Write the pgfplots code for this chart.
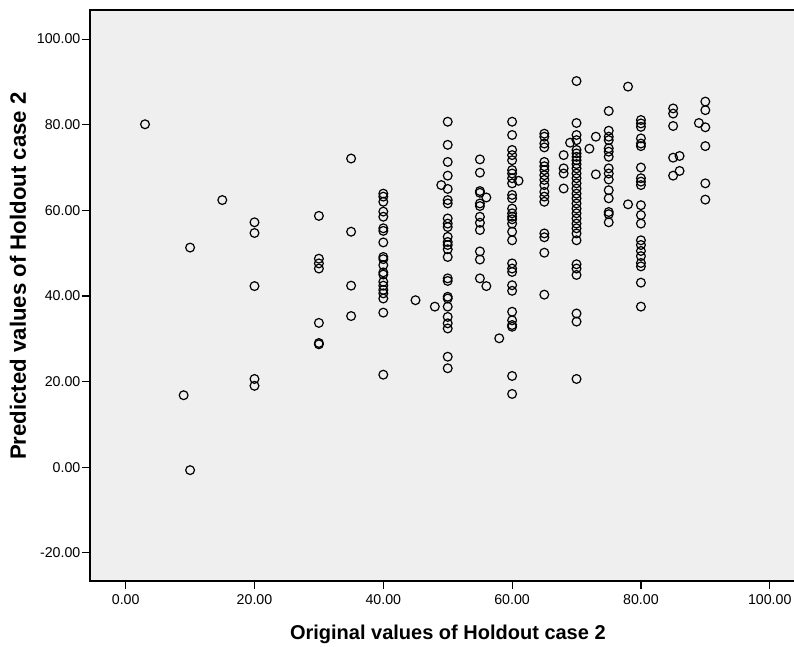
\documentclass[border=0pt]{standalone}
\usepackage{fontspec}
\setmainfont{Liberation Sans}
\usepackage{pgfplots}
\pgfplotsset{compat=1.18}
\usepackage{pgfplotstable}
\definecolor{plotbg}{HTML}{EFEFEF}
\pgfplotstableread{
x y
3 80.1
9 16.8
10 51.3
10 -0.7
15 62.4
20 57.2
20 54.7
20 42.3
20 20.6
20 19.0
30 58.7
30 48.7
30 47.6
30 46.4
30 33.7
30 29.0
30 28.7
35 72.1
35 55.0
35 42.4
35 35.3
40 63.9
40 63.2
40 62.0
40 59.7
40 58.5
40 55.8
40 55.2
40 52.5
40 49.1
40 48.6
40 47.2
40 45.5
40 45.0
40 43.3
40 42.4
40 41.4
40 40.6
40 39.4
40 36.1
40 21.6
45 39.0
48 37.5
49 65.9
50 80.7
50 75.3
50 71.3
50 68.1
50 65.0
50 62.4
50 61.6
50 58.1
50 56.9
50 56.1
50 53.8
50 52.6
50 51.9
50 50.9
50 49.1
50 44.1
50 43.5
50 39.8
50 39.4
50 37.5
50 35.1
50 33.6
50 32.4
50 25.8
50 23.1
55 71.9
55 68.8
55 64.5
55 64.1
55 61.6
55 61.0
55 58.5
55 57.1
55 55.4
55 50.4
55 48.5
55 44.1
56 63.0
56 42.3
58 30.1
60 80.7
60 77.6
60 74.1
60 72.9
60 71.7
60 69.4
60 68.6
60 67.5
60 66.3
60 63.6
60 62.8
60 60.4
60 59.3
60 58.5
60 57.9
60 56.9
60 55.0
60 53.0
60 47.6
60 46.4
60 45.6
60 42.5
60 41.2
60 36.3
60 34.3
60 33.2
60 32.8
60 21.3
60 17.1
61 66.9
65 77.9
65 77.2
65 75.6
65 74.7
65 71.3
65 70.3
65 69.4
65 68.2
65 67.1
65 65.9
65 64.3
65 63.2
65 62.0
65 54.6
65 53.7
65 50.1
65 40.3
68 72.9
68 69.8
68 68.6
68 65.1
69 75.8
70 90.2
70 80.4
70 77.6
70 76.4
70 74.1
70 73.3
70 72.5
70 71.7
70 70.8
70 69.8
70 68.6
70 67.5
70 66.3
70 65.1
70 63.9
70 62.8
70 61.6
70 60.4
70 59.3
70 58.1
70 56.9
70 55.8
70 54.6
70 53.0
70 47.4
70 46.4
70 44.9
70 35.9
70 34.0
70 20.6
72 74.4
73 77.2
73 68.4
75 83.2
75 78.6
75 77.2
75 76.4
75 74.5
75 73.7
75 72.5
75 69.8
75 68.6
75 67.2
75 64.7
75 62.8
75 59.6
75 59.1
75 57.2
78 88.9
78 61.4
80 81.1
80 80.3
80 79.5
80 76.8
80 75.6
80 75.0
80 70.0
80 67.5
80 66.7
80 65.9
80 61.2
80 58.9
80 56.9
80 53.0
80 51.9
80 50.5
80 49.3
80 47.7
80 46.9
80 43.1
80 37.5
85 83.8
85 82.6
85 79.7
85 72.3
85 68.1
86 72.7
86 69.2
89 80.4
90 85.4
90 83.4
90 79.4
90 75.0
90 66.3
90 62.5
}\data
\begin{document}
\begin{tikzpicture}[x=1pt,y=1pt]
\useasboundingbox (0,0) rectangle (794,646);
\begin{axis}[
  at={(90pt,65pt)}, anchor=south west,
  scale only axis, width=710pt, height=571pt,
  xmin=-5.54, xmax=104.7, ymin=-26.6, ymax=106.8,
  axis background/.style={fill=plotbg},
  axis line style={line width=1.2pt, black},
  xtick={0,20,...,100}, ytick={-20,0,...,100},
  tick align=outside, xtick pos=left, ytick pos=left,
  major tick length=8pt,
  tick style={line width=1.2pt, black},
  /pgf/number format/.cd, fixed, fixed zerofill, precision=2, assume math mode=true,
  /pgfplots/.cd,
  ticklabel style={font=\fontsize{14.2}{16}\selectfont, inner sep=1.5pt},
  xticklabel shift=4pt,
  xlabel={Original values of Holdout case 2},
  ylabel={Predicted values of Holdout case 2},
  xlabel style={font=\fontsize{20}{24}\selectfont\bfseries, at={(axis description cs:0.504,0)}, anchor=center, yshift=-53pt},
  ylabel style={font=\fontsize{22.2}{26}\selectfont\bfseries, at={(axis description cs:-0.1014,0.534)}, anchor=center},
]
\addplot[only marks, mark=o, mark size=4.4pt, mark options={line width=1.2pt, black}] table[x=x,y=y] {\data};
\end{axis}
\end{tikzpicture}
\end{document}
